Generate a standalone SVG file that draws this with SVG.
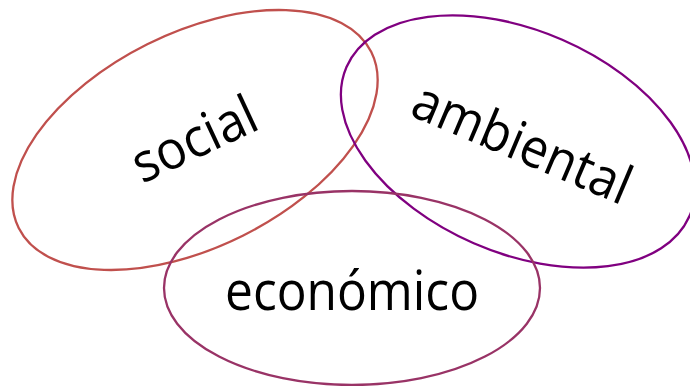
<svg xmlns="http://www.w3.org/2000/svg" width="690" height="386" viewBox="0 0 690 386">
<style>
.ell{fill:none;stroke-width:2.3}
.lbl{font-family:"Open Sans","Noto Sans",sans-serif;font-size:54px;fill:#000;text-anchor:middle}
</style>
<rect width="690" height="386" fill="#fff"/>
<g id="social">
<ellipse class="ell" cx="195" cy="140" rx="197" ry="107" transform="rotate(-26.5 195 140)" stroke="#C0504D"/>
<text class="lbl" transform="translate(202 156) rotate(-25)" textLength="132" lengthAdjust="spacingAndGlyphs">social</text>
</g>
<g id="ambiental">
<ellipse class="ell" cx="518" cy="141.5" rx="187" ry="111" transform="rotate(23.5 518 141.5)" stroke="#800080"/>
<text class="lbl" transform="translate(515 160) rotate(23)" textLength="232" lengthAdjust="spacingAndGlyphs">ambiental</text>
</g>
<g id="economico">
<ellipse class="ell" cx="352" cy="288" rx="188" ry="97" stroke="#993366"/>
<text class="lbl" x="352" y="310" textLength="254" lengthAdjust="spacingAndGlyphs">económico</text>
</g>
<g id="connectors"/>
</svg>
